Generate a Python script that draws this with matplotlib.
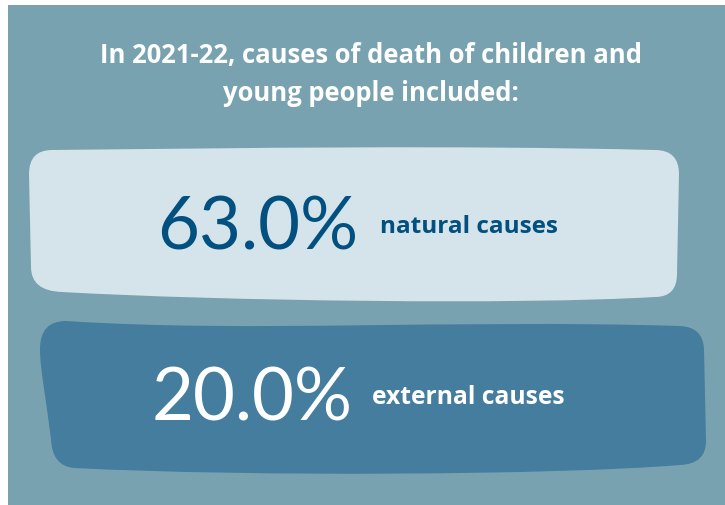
import matplotlib
matplotlib.use("Agg")
import matplotlib.pyplot as plt
from matplotlib.path import Path
from matplotlib.patches import PathPatch, Rectangle

# content
title_lines = ["In 2021-22, causes of death of children and", "young people included:"]
shares = [63.0, 20.0]
cause_labels = ["natural causes", "external causes"]

# colours
panel_col = "#78a2b0"
light_col = "#d5e3ea"
dark_col = "#457d9f"
navy = "#02507f"

M, L, C3, C4, CL = Path.MOVETO, Path.LINETO, Path.CURVE3, Path.CURVE4, Path.CLOSEPOLY


def blob(verts_codes, color):
    verts = [v for v, c in verts_codes]
    codes = [c for v, c in verts_codes]
    return PathPatch(Path(verts, codes), facecolor=color, edgecolor="none")


def fit(t, width_px):
    # rescale a text so that it spans roughly width_px pixels
    r = fig.canvas.get_renderer()
    w = t.get_window_extent(renderer=r).width
    t.set_fontsize(t.get_fontsize() * width_px / w)
    return t.get_fontsize()


fig = plt.figure(figsize=(7.25, 5.06), dpi=100, facecolor="white")
ax = fig.add_axes([0, 0, 1, 1])
ax.set_xlim(0, 725)
ax.set_ylim(506, 0)
ax.axis("off")

ax.add_patch(Rectangle((8, 6), 717, 500, facecolor=panel_col, edgecolor="none"))

# light wavy card
light = [
    ((52, 151), M),
    ((250, 149), C4), ((450, 146), C4), ((655, 151), C4),
    ((679, 151), C3), ((679, 175), C3),
    ((677, 275), L),
    ((677, 298), C3), ((655, 298), C3),
    ((520, 306), C4), ((220, 302), C4), ((62, 293), C4),
    ((31, 292), C3), ((31, 268), C3),
    ((29, 175), L),
    ((29, 151), C3), ((52, 151), C3),
    ((52, 151), CL),
]
ax.add_patch(blob(light, light_col))

# dark wavy card
dark = [
    ((66, 322), M),
    ((250, 334), C4), ((450, 320), C4), ((680, 327), C4),
    ((703, 328), C3), ((704, 350), C3),
    ((706, 442), L),
    ((706, 465), C3), ((680, 466), C3),
    ((560, 476), C4), ((250, 478), C4), ((74, 469), C4),
    ((52, 467), C3), ((51, 440), C3),
    ((46, 400), C4), ((40, 370), C4), ((40, 350), C4),
    ((40, 322), C3), ((66, 322), C3),
    ((66, 322), CL),
]
ax.add_patch(blob(dark, dark_col))

# title
t1 = ax.text(371, 63, title_lines[0], ha="center", va="baseline", color="white",
             fontsize=17, fontweight="bold", family="Open Sans")
fs = fit(t1, 543)
ax.text(371, 101, title_lines[1], ha="center", va="baseline", color="white",
        fontsize=fs, fontweight="bold", family="Open Sans")

# big numbers and labels
num_x = [157, 152]
num_base = [250, 421]
lab_x = [380, 372]
lab_base = [233, 404]
lab_w = [177, 193]
num_cols = [navy, "white"]
for i in range(2):
    tn = ax.text(num_x[i], num_base[i], f"{shares[i]:.1f}%", ha="left", va="baseline",
                 color=num_cols[i], fontsize=52, family="Lato")
    fit(tn, 201)
    tl = ax.text(lab_x[i], lab_base[i], cause_labels[i], ha="left", va="baseline",
                 color=num_cols[i], fontsize=16, fontweight="bold", family="Open Sans")
    fit(tl, lab_w[i])

fig.savefig("out.png", dpi=100, facecolor="white")
